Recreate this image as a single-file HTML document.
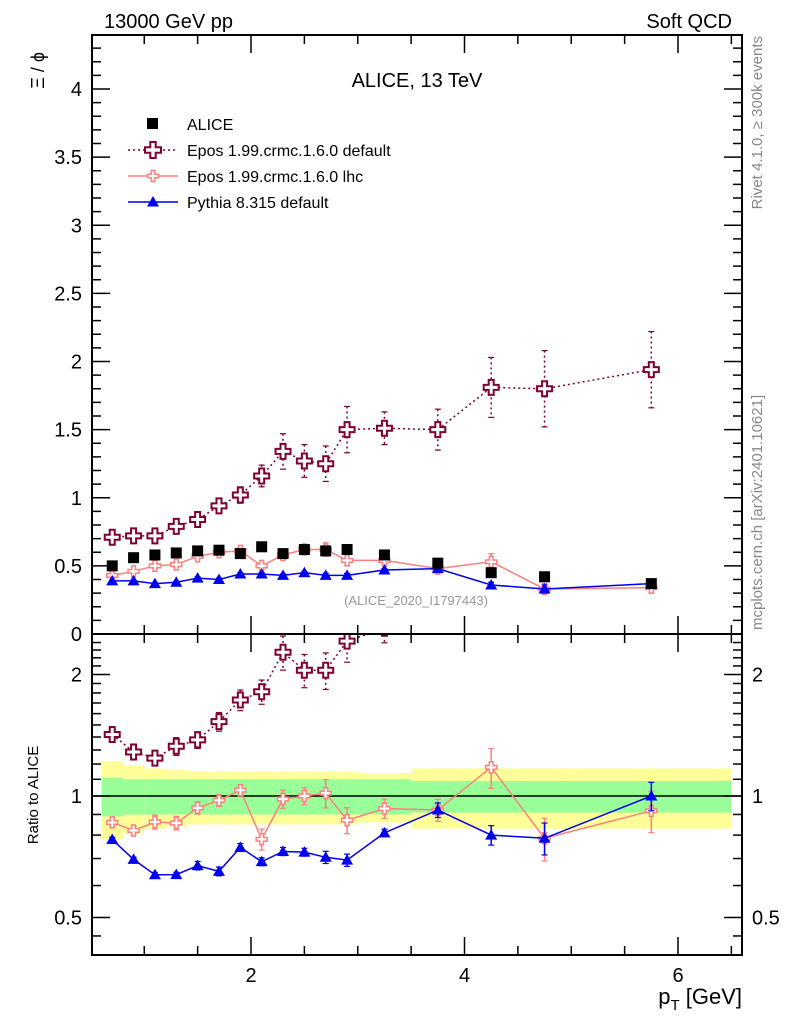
<!DOCTYPE html>
<html><head><meta charset="utf-8"><style>
body{margin:0;background:#fff;}
svg{display:block;font-family:"Liberation Sans",sans-serif;}
</style></head><body>
<svg id="c" width="786" height="1024" xmlns="http://www.w3.org/2000/svg"></svg>
<script>
const pT=[0.7,0.9,1.1,1.3,1.5,1.7,1.9,2.1,2.3,2.5,2.7,2.9,3.25,3.75,4.25,4.75,5.75];
const binLo=[0.6,0.8,1.0,1.2,1.4,1.6,1.8,2.0,2.2,2.4,2.6,2.8,3.0,3.5,4.0,4.5,5.0];
const binHi=[0.8,1.0,1.2,1.4,1.6,1.8,2.0,2.2,2.4,2.6,2.8,3.0,3.5,4.0,4.5,5.0,6.5];
const alice=[0.50,0.56,0.58,0.595,0.61,0.615,0.59,0.64,0.59,0.62,0.61,0.62,0.58,0.52,0.45,0.42,0.37];
const statRel=[0.11,0.1,0.1,0.1,0.1,0.1,0.1,0.1,0.1,0.1,0.1,0.1,0.1,0.09,0.09,0.09,0.09];
const totRel=[0.22,0.19,0.17,0.16,0.15,0.15,0.15,0.15,0.15,0.15,0.15,0.15,0.14,0.17,0.17,0.17,0.17];
const eposDef=[0.71,0.72,0.72,0.79,0.84,0.94,1.02,1.16,1.34,1.27,1.25,1.50,1.51,1.50,1.81,1.80,1.94];
const eposDefErr=[0.03,0.03,0.03,0.04,0.04,0.05,0.06,0.08,0.13,0.12,0.13,0.17,0.12,0.15,0.22,0.28,0.28];
const eposLhc=[0.43,0.46,0.50,0.51,0.57,0.60,0.61,0.50,0.58,0.62,0.62,0.54,0.54,0.48,0.53,0.33,0.34];
const eposLhcErr=[0.01,0.01,0.02,0.02,0.02,0.02,0.02,0.03,0.03,0.03,0.05,0.04,0.03,0.03,0.06,0.04,0.04];
const pythia=[0.39,0.39,0.37,0.38,0.41,0.40,0.44,0.44,0.43,0.45,0.43,0.43,0.47,0.48,0.36,0.33,0.37];
const pythiaErr=[0.005,0.005,0.005,0.005,0.01,0.01,0.01,0.01,0.01,0.01,0.015,0.015,0.01,0.02,0.02,0.03,0.03];
const mainTicks=["0","0.5","1","1.5","2","2.5","3","3.5","4"];

const svg=document.getElementById('c');
const NS="http://www.w3.org/2000/svg";
const L=92,R=742,T=35,M=634,B=955;
const X=v=>37.5+v*106.75;
const Y=v=>M-v*136.25;
const YR=v=>796-Math.log2(v)*121.5;
function el(tag,attrs,parent){const e=document.createElementNS(NS,tag);for(const k in attrs)e.setAttribute(k,attrs[k]);(parent||svg).appendChild(e);return e;}
function txt(s,x,y,attrs){const t=el('text',Object.assign({x:x,y:y},attrs));t.textContent=s;return t;}

const defs=el('defs',{});
const c1=el('clipPath',{id:'cm'},defs);el('rect',{x:L,y:T,width:R-L,height:M-T},c1);
const c2=el('clipPath',{id:'cr'},defs);el('rect',{x:L,y:M,width:R-L,height:B-M},c2);

const gBand=el('g',{'clip-path':'url(#cr)'});


binLo.forEach((lo,i)=>{
  const r1=el('rect',{x:X(lo),y:YR(1+totRel[i]),width:X(binHi[i])-X(lo),height:YR(1-totRel[i])-YR(1+totRel[i]),fill:'#ffff99'},gBand);
  
  
});
binLo.forEach((lo,i)=>{
  const r2=el('rect',{x:X(lo),y:YR(1+statRel[i]),width:X(binHi[i])-X(lo),height:YR(1-statRel[i])-YR(1+statRel[i]),fill:'#99ff99'},gBand);
  
  
});
el('line',{x1:L,x2:R,y1:YR(1),y2:YR(1),stroke:'#000','stroke-width':1.5},gBand);

function crossPath(x,y,s){const a=s/3;return `M${x-a},${y-s}H${x+a}V${y-a}H${x+s}V${y+a}H${x+a}V${y+s}H${x-a}V${y+a}H${x-s}V${y-a}H${x-a}Z`;}
function drawSeries(g,vals,errs,yf,style,name){
  const pts=vals.map((v,i)=>[X(pT[i]),yf(v)]);
  const line=el('polyline',{points:pts.map(p=>p.join(',')).join(' '),fill:'none',stroke:style.color,'stroke-width':style.lw,'stroke-dasharray':style.dash||'none'},g);
  
  
  vals.forEach((v,i)=>{
    const x=X(pT[i]);const y1=yf(v+errs[i]),y2=yf(Math.max(v-errs[i],0.01));
    el('line',{x1:x,x2:x,y1:y1,y2:y2,stroke:style.color,'stroke-width':style.lw,'stroke-dasharray':style.dash||'none'},g);
    el('line',{x1:x-3,x2:x+3,y1:y1,y2:y1,stroke:style.color,'stroke-width':1.2},g);
    el('line',{x1:x-3,x2:x+3,y1:y2,y2:y2,stroke:style.color,'stroke-width':1.2},g);
    let m;
    if(style.marker==='cross'){m=el('path',{d:crossPath(x,yf(v),style.size),fill:'#fff',stroke:style.color,'stroke-width':style.mw},g);}
    else {const s=6;m=el('path',{d:`M${x},${yf(v)-s}L${x+s},${yf(v)+s*0.75}L${x-s},${yf(v)+s*0.75}Z`,fill:style.color},g);}
    
    
  });
}
const sDef={color:'#800033',lw:1.5,dash:'2,3',marker:'cross',size:7.5,mw:2};
const sLhc={color:'#ff7f7f',lw:1.5,marker:'cross',size:5.5,mw:1.5};
const sPy={color:'#0000ee',lw:1.5,marker:'tri'};

const gm=el('g',{'clip-path':'url(#cm)'});


drawSeries(gm,eposDef,eposDefErr,Y,sDef,'epos-default');
drawSeries(gm,eposLhc,eposLhcErr,Y,sLhc,'epos-lhc');
drawSeries(gm,pythia,pythiaErr,Y,sPy,'pythia');
alice.forEach((v,i)=>{const r=el('rect',{x:X(pT[i])-5.5,y:Y(v)-5.5,width:11,height:11,fill:'#000'},gm);
  
  });

const gr=el('g',{'clip-path':'url(#cr)'});


drawSeries(gr,eposDef.map((v,i)=>v/alice[i]),eposDefErr.map((v,i)=>v/alice[i]),YR,sDef,'ratio-epos-default');
drawSeries(gr,eposLhc.map((v,i)=>v/alice[i]),eposLhcErr.map((v,i)=>v/alice[i]),YR,sLhc,'ratio-epos-lhc');
drawSeries(gr,pythia.map((v,i)=>v/alice[i]),pythiaErr.map((v,i)=>v/alice[i]),YR,sPy,'ratio-pythia');

el('rect',{x:L,y:T,width:R-L,height:M-T,fill:'none',stroke:'#000','stroke-width':2});
el('rect',{x:L,y:M,width:R-L,height:B-M,fill:'none',stroke:'#000','stroke-width':2});

for(let v=0.5;v<=6.5;v+=0.5){const x=X(v);if(x<L||x>R)continue;const maj=Math.abs(v%2)<1e-6;const len=maj?18:9;
  [[T,1],[M,-1],[M,1],[B,-1]].forEach(([y0,d])=>el('line',{x1:x,x2:x,y1:y0,y2:y0+d*len,stroke:'#000','stroke-width':1.5}));}
[2,4,6].forEach(v=>{const t=txt(String(v),X(v),982,{'font-size':20,'text-anchor':'middle'});
  
  });

for(let k=0;k<=44;k++){const v=k/10;const y=Y(v);if(y<T)continue;const maj=k%5===0;const len=maj?18:9;
  el('line',{x1:L,x2:L+len,y1:y,y2:y,stroke:'#000','stroke-width':1.5});
  el('line',{x1:R,x2:R-len,y1:y,y2:y,stroke:'#000','stroke-width':1.5});}
mainTicks.forEach(s=>{const t=txt(s,82,Y(parseFloat(s))+7,{'font-size':20,'text-anchor':'end'});
  
  });

for(let v=0.5;v<=2.5;v+=0.1){const y=YR(v);if(y<M||y>B)continue;const maj=Math.abs(v-0.5)<1e-6||Math.abs(v-1)<1e-6||Math.abs(v-2)<1e-6;const len=maj?18:9;
  el('line',{x1:L,x2:L+len,y1:y,y2:y,stroke:'#000','stroke-width':1.5});
  el('line',{x1:R,x2:R-len,y1:y,y2:y,stroke:'#000','stroke-width':1.5});}
el('line',{x1:L,x2:L+9,y1:YR(0.45),y2:YR(0.45),stroke:'#000','stroke-width':1.5});
el('line',{x1:R,x2:R-9,y1:YR(0.45),y2:YR(0.45),stroke:'#000','stroke-width':1.5});
[["2",2],["1",1],["0.5",0.5]].forEach(([s,v])=>{
  const a=txt(s,82,YR(v)+7,{'font-size':20,'text-anchor':'end'});
  
  
  const b=txt(s,752,YR(v)+7,{'font-size':20,'text-anchor':'start'});
  
  });
</script>
<svg width="786" height="1024" style="position:absolute;left:0;top:0" xmlns="http://www.w3.org/2000/svg" font-family="Liberation Sans, sans-serif">
<text x="104" y="28" font-size="20">13000 GeV pp</text>
<text x="732" y="28" font-size="20" text-anchor="end">Soft QCD</text>
<text x="417" y="87" font-size="20" text-anchor="middle">ALICE, 13 TeV</text>
<text transform="translate(44,52) rotate(-90)" font-size="18" text-anchor="end">Ξ / ϕ</text>
<text transform="translate(38,795) rotate(-90)" font-size="15" text-anchor="middle">Ratio to ALICE</text>
<text x="742" y="1004" font-size="22" text-anchor="end">p<tspan font-size="15" dy="6">T</tspan><tspan dy="-6"> [GeV]</tspan></text>
<text transform="translate(762,36) rotate(-90)" font-size="15" fill="#888" text-anchor="end">Rivet 4.1.0, ≥ 300k events</text>
<text transform="translate(762,630) rotate(-90)" font-size="15" fill="#888" text-anchor="start">mcplots.cern.ch [arXiv:2401.10621]</text>
<text x="416" y="605" font-size="13" fill="#999" text-anchor="middle">(ALICE_2020_I1797443)</text>
<g>
<rect x="147" y="118" width="11" height="11" fill="#000"/>
<text x="187" y="130" font-size="16">ALICE</text>
<line x1="128" x2="178" y1="150" y2="150" stroke="#800033" stroke-width="1.5" stroke-dasharray="2,3"/>
<path d="M150.3,142H155.7V147.3H161V152.7H155.7V158H150.3V152.7H145V147.3H150.3Z" fill="#fff" stroke="#800033" stroke-width="2"/>
<text x="187" y="156" font-size="16">Epos 1.99.crmc.1.6.0 default</text>
<line x1="128" x2="178" y1="176" y2="176" stroke="#ff7f7f" stroke-width="1.5"/>
<path d="M151.2,170.5H154.8V174.2H158.5V177.8H154.8V181.5H151.2V177.8H147.5V174.2H151.2Z" fill="#fff" stroke="#ff7f7f" stroke-width="1.5"/>
<text x="187" y="182" font-size="16">Epos 1.99.crmc.1.6.0 lhc</text>
<line x1="128" x2="178" y1="202" y2="202" stroke="#0000ee" stroke-width="1.5"/>
<path d="M153,196L159,206.5L147,206.5Z" fill="#0000ee"/>
<text x="187" y="208" font-size="16">Pythia 8.315 default</text>
</g>
</svg>
</body></html>
